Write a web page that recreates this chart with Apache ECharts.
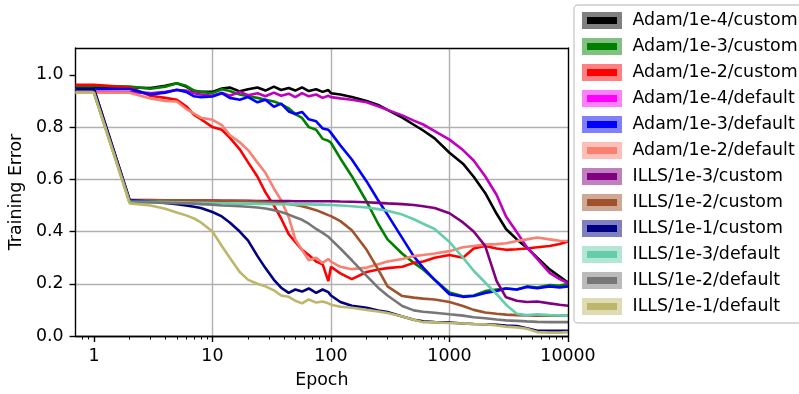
<!DOCTYPE html>
<html>
<head>
<meta charset="utf-8">
<script src="https://cdn.jsdelivr.net/npm/echarts@6/dist/echarts.min.js"></script>
<style>
html, body { margin: 0; padding: 0; background: #fff; }
#chart { width: 799px; height: 394px; }
</style>
</head>
<body>
<div id="chart"></div>
<script>
// epochs shared by every run (0.7 stands in for epoch 0, left edge of the log axis)
const epochs = [0.7, 1, 2, 3, 4, 5, 6, 7, 8, 10,
  12, 14, 17, 20, 24, 28, 33, 38, 44, 50,
  57, 65, 75, 85, 95, 100, 120, 150, 200, 250,
  300, 400, 500, 600, 750, 1000, 1300, 1600, 2000, 2500,
  3000, 3700, 4500, 5500, 7000, 8500, 10000]

const xTicks = [1, 10, 100, 1000, 10000]
const xMinorTicks = [0.8, 0.9, 2, 3, 4, 5, 6, 7, 8, 9,
  20, 30, 40, 50, 60, 70, 80, 90,
  200, 300, 400, 500, 600, 700, 800, 900,
  2000, 3000, 4000, 5000, 6000, 7000, 8000, 9000]
const yTicks = [0, 0.2, 0.4, 0.6, 0.8, 1.0]

const names = ['Adam/1e-4/custom', 'Adam/1e-3/custom', 'Adam/1e-2/custom',
  'Adam/1e-4/default', 'Adam/1e-3/default', 'Adam/1e-2/default',
  'ILLS/1e-3/custom', 'ILLS/1e-2/custom', 'ILLS/1e-1/custom',
  'ILLS/1e-3/default', 'ILLS/1e-2/default', 'ILLS/1e-1/default']

const adamE4Custom = [0.955, 0.955, 0.952, 0.950, 0.958, 0.968, 0.955, 0.938, 0.935, 0.935,
  0.948, 0.952, 0.937, 0.945, 0.952, 0.940, 0.955, 0.942, 0.950, 0.940,
  0.952, 0.938, 0.945, 0.935, 0.942, 0.930, 0.925, 0.915, 0.900, 0.885,
  0.866, 0.836, 0.809, 0.787, 0.757, 0.702, 0.660, 0.610, 0.548, 0.468,
  0.410, 0.370, 0.338, 0.300, 0.255, 0.228, 0.205]
const adamE3Custom = [0.958, 0.958, 0.955, 0.947, 0.955, 0.968, 0.958, 0.940, 0.935, 0.930,
  0.945, 0.938, 0.925, 0.918, 0.912, 0.905, 0.898, 0.888, 0.872, 0.850,
  0.835, 0.800, 0.790, 0.755, 0.748, 0.740, 0.680, 0.612, 0.515, 0.430,
  0.370, 0.315, 0.280, 0.255, 0.215, 0.167, 0.152, 0.155, 0.172, 0.178,
  0.182, 0.178, 0.190, 0.186, 0.195, 0.192, 0.200]
const adamE2Custom = [0.962, 0.962, 0.952, 0.920, 0.912, 0.905, 0.880, 0.847, 0.830, 0.800,
  0.790, 0.760, 0.715, 0.665, 0.610, 0.550, 0.500, 0.450, 0.390, 0.360,
  0.330, 0.310, 0.285, 0.275, 0.210, 0.265, 0.240, 0.218, 0.245, 0.255,
  0.260, 0.265, 0.280, 0.285, 0.300, 0.310, 0.300, 0.335, 0.345, 0.335,
  0.330, 0.332, 0.335, 0.340, 0.345, 0.352, 0.362]
const adamE4Default = [0.935, 0.935, 0.934, 0.930, 0.935, 0.942, 0.940, 0.930, 0.925, 0.920,
  0.932, 0.920, 0.935, 0.922, 0.930, 0.918, 0.932, 0.920, 0.928, 0.915,
  0.930, 0.918, 0.925, 0.912, 0.920, 0.915, 0.910, 0.905, 0.895, 0.880,
  0.866, 0.845, 0.825, 0.810, 0.785, 0.752, 0.712, 0.672, 0.612, 0.540,
  0.458, 0.397, 0.340, 0.295, 0.242, 0.218, 0.203]
const adamE3Default = [0.946, 0.946, 0.946, 0.925, 0.932, 0.943, 0.935, 0.918, 0.915, 0.917,
  0.930, 0.912, 0.905, 0.915, 0.895, 0.905, 0.878, 0.890, 0.860, 0.850,
  0.858, 0.830, 0.822, 0.795, 0.790, 0.778, 0.730, 0.676, 0.592, 0.520,
  0.465, 0.375, 0.305, 0.262, 0.215, 0.160, 0.150, 0.153, 0.165, 0.172,
  0.182, 0.178, 0.188, 0.183, 0.190, 0.186, 0.190]
const adamE2Default = [0.932, 0.932, 0.932, 0.910, 0.900, 0.898, 0.870, 0.852, 0.836, 0.828,
  0.808, 0.770, 0.742, 0.712, 0.664, 0.625, 0.565, 0.520, 0.455, 0.370,
  0.330, 0.290, 0.300, 0.280, 0.295, 0.285, 0.265, 0.256, 0.262, 0.275,
  0.285, 0.295, 0.306, 0.310, 0.316, 0.325, 0.340, 0.345, 0.350, 0.352,
  0.355, 0.364, 0.370, 0.377, 0.370, 0.365, 0.364]
const illsE3Custom = [0.946, 0.946, 0.522, 0.521, 0.520, 0.520, 0.520, 0.519, 0.519, 0.519,
  0.518, 0.518, 0.518, 0.518, 0.517, 0.517, 0.517, 0.517, 0.517, 0.516,
  0.516, 0.516, 0.516, 0.516, 0.516, 0.516, 0.515, 0.514, 0.512, 0.510,
  0.508, 0.505, 0.502, 0.497, 0.490, 0.470, 0.435, 0.400, 0.345, 0.210,
  0.148, 0.135, 0.130, 0.132, 0.125, 0.120, 0.116]
const illsE2Custom = [0.946, 0.946, 0.520, 0.520, 0.520, 0.520, 0.520, 0.520, 0.520, 0.519,
  0.518, 0.518, 0.517, 0.516, 0.515, 0.513, 0.511, 0.509, 0.506, 0.502,
  0.497, 0.490, 0.482, 0.472, 0.463, 0.459, 0.440, 0.405, 0.330, 0.255,
  0.190, 0.153, 0.147, 0.143, 0.140, 0.130, 0.115, 0.100, 0.090, 0.085,
  0.082, 0.080, 0.079, 0.078, 0.078, 0.078, 0.078]
const illsE1Custom = [0.946, 0.946, 0.520, 0.515, 0.510, 0.505, 0.500, 0.495, 0.490, 0.475,
  0.458, 0.435, 0.400, 0.365, 0.306, 0.260, 0.215, 0.185, 0.165, 0.178,
  0.170, 0.182, 0.165, 0.178, 0.168, 0.155, 0.130, 0.116, 0.108, 0.098,
  0.092, 0.075, 0.062, 0.056, 0.053, 0.052, 0.048, 0.046, 0.045, 0.043,
  0.040, 0.038, 0.030, 0.020, 0.020, 0.020, 0.020]
const illsE3Default = [0.932, 0.932, 0.515, 0.514, 0.513, 0.512, 0.511, 0.510, 0.510, 0.509,
  0.508, 0.508, 0.507, 0.507, 0.506, 0.506, 0.505, 0.505, 0.505, 0.504,
  0.504, 0.504, 0.503, 0.503, 0.502, 0.502, 0.500, 0.497, 0.492, 0.486,
  0.480, 0.465, 0.447, 0.430, 0.410, 0.360, 0.300, 0.250, 0.205, 0.160,
  0.120, 0.085, 0.080, 0.083, 0.080, 0.079, 0.078]
const illsE2Default = [0.932, 0.932, 0.512, 0.511, 0.510, 0.509, 0.508, 0.507, 0.505, 0.503,
  0.500, 0.499, 0.497, 0.495, 0.492, 0.488, 0.482, 0.475, 0.465, 0.455,
  0.445, 0.430, 0.410, 0.395, 0.380, 0.370, 0.335, 0.290, 0.230, 0.185,
  0.155, 0.115, 0.098, 0.093, 0.089, 0.083, 0.078, 0.072, 0.068, 0.063,
  0.060, 0.058, 0.056, 0.054, 0.053, 0.053, 0.053]
const illsE1Default = [0.932, 0.932, 0.508, 0.500, 0.487, 0.473, 0.462, 0.450, 0.435, 0.400,
  0.345, 0.300, 0.245, 0.215, 0.200, 0.190, 0.175, 0.155, 0.150, 0.135,
  0.125, 0.140, 0.128, 0.132, 0.125, 0.120, 0.112, 0.108, 0.100, 0.094,
  0.088, 0.075, 0.062, 0.053, 0.052, 0.050, 0.048, 0.046, 0.045, 0.040,
  0.036, 0.033, 0.028, 0.015, 0.013, 0.013, 0.015]

const values = [adamE4Custom, adamE3Custom, adamE2Custom, adamE4Default, adamE3Default, adamE2Default,
  illsE3Custom, illsE2Custom, illsE1Custom, illsE3Default, illsE2Default, illsE1Default]

const lineColors = ['#000000', '#008000', '#ff0000', '#bf00bf', '#0000ff', '#fa8072',
  '#800080', '#a0522d', '#000080', '#66cdaa', '#777777', '#bdb76b']
const legendColors = ['#000000', '#008000', '#ff0000', '#ff00ff', '#0000ff', '#fa8072',
  '#800080', '#a0522d', '#000080', '#66cdaa', '#777777', '#bdb76b']

const font = 'DejaVu Sans'
const textStyle = { fontFamily: font, fontSize: 17.4, color: '#000' }
const black = { color: '#000', width: 1.4 }

// log10 positions for the epoch axis
const lg = v => Math.log10(v)
const xMin = lg(0.7)
const xMax = lg(10000)

const option = {
  animation: false,
  backgroundColor: '#fff',
  grid: { left: 73, right: 231, top: 48, bottom: 57 },
  legend: {
    orient: 'vertical',
    left: 574,
    top: 5,
    icon: 'rect',
    itemWidth: 35,
    itemHeight: 12,
    itemGap: 9,
    padding: [7, 10, 8, 8],
    backgroundColor: '#fff',
    borderColor: '#cccccc',
    borderWidth: 1.4,
    borderRadius: 4,
    selectedMode: false,
    textStyle: { ...textStyle, lineHeight: 17, padding: [0, 0, 0, 8] },
    data: names.map((n, i) => ({
      name: n,
      itemStyle: {
        color: legendColors[i],
        borderColor: echarts.color.lerp(0.5, [legendColors[i], '#ffffff']),
        borderWidth: 5,
      },
    })),
  },
  xAxis: [
    {
      type: 'value',
      min: xMin,
      max: xMax,
      position: 'bottom',
      name: 'Epoch',
      nameLocation: 'middle',
      nameGap: 36,
      nameTextStyle: textStyle,
      axisLine: { show: true, onZero: false, lineStyle: black },
      axisTick: { show: true, customValues: xTicks.map(lg), length: 6, lineStyle: black },
      axisLabel: {
        ...textStyle,
        customValues: xTicks.map(lg),
        margin: 12,
        formatter: v => String(Math.round(Math.pow(10, v))),
      },
      splitLine: { show: true, showMinLine: false, showMaxLine: false, lineStyle: { color: '#b0b0b0', width: 1.4 } },
    },
    {
      // minor log ticks + bottom spine
      type: 'value',
      min: xMin,
      max: xMax,
      position: 'bottom',
      z: 5,
      axisLine: { show: true, onZero: false, lineStyle: black },
      axisTick: { show: true, customValues: xMinorTicks.map(lg), length: 3.5, lineStyle: { color: '#000', width: 1 } },
      axisLabel: { show: false },
      splitLine: { show: false },
    },
    {
      // top spine
      type: 'value',
      position: 'top',
      z: 5,
      axisLine: { show: true, onZero: false, lineStyle: black },
      axisTick: { show: false },
      axisLabel: { show: false },
      splitLine: { show: false },
    },
  ],
  yAxis: [
    {
      type: 'value',
      min: 0,
      max: 1.103,
      position: 'left',
      name: 'Training Error',
      nameLocation: 'middle',
      nameGap: 44,
      nameTextStyle: textStyle,
      axisLine: { show: true, onZero: false, lineStyle: black },
      axisTick: { show: true, customValues: yTicks, length: 6, lineStyle: black },
      axisLabel: { ...textStyle, customValues: yTicks, margin: 12, formatter: v => v.toFixed(1) },
      splitLine: { show: true, showMinLine: false, showMaxLine: false, lineStyle: { color: '#b0b0b0', width: 1.4 } },
    },
    {
      // right spine
      type: 'value',
      position: 'right',
      z: 5,
      axisLine: { show: true, onZero: false, lineStyle: black },
      axisTick: { show: false },
      axisLabel: { show: false },
      splitLine: { show: false },
    },
  ],
  series: names.map((n, i) => ({
    name: n,
    type: 'line',
    xAxisIndex: 0,
    yAxisIndex: 0,
    showSymbol: false,
    symbol: 'none',
    color: lineColors[i],
    lineStyle: { color: lineColors[i], width: 2.6 },
    data: epochs.map((e, j) => [lg(e), values[i][j]]),
  })),
}

const myChart = echarts.init(document.getElementById('chart'))
myChart.setOption(option)
</script>
</body>
</html>
